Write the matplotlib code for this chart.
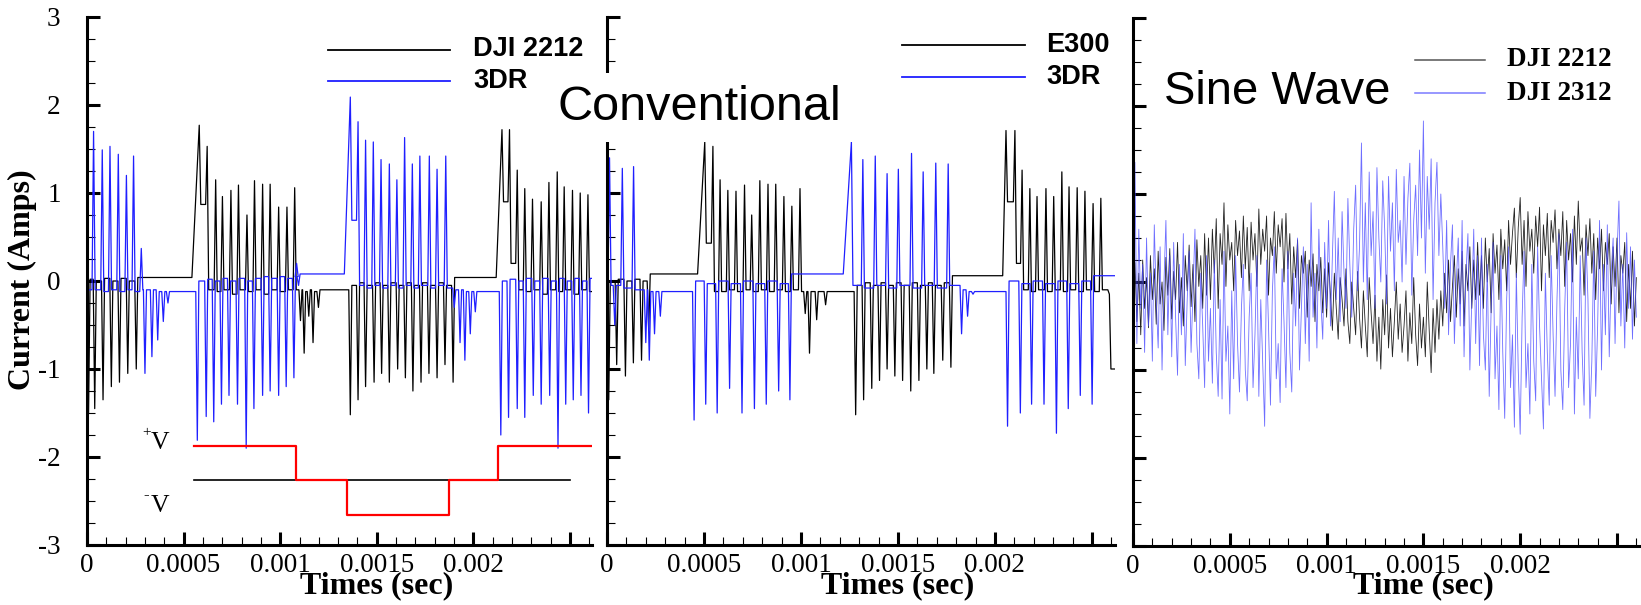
import numpy as np
import matplotlib
matplotlib.use('Agg')
import matplotlib.pyplot as plt
from matplotlib.lines import Line2D
from matplotlib.ticker import MultipleLocator
from matplotlib.transforms import blended_transform_factory

# ---- data (times in units of 10 microseconds) ----
# an entry whose peak equals its base marks the start of a slow ramp
# panel 1 : conventional, DJI 2212 (black) and 3DR (blue)
p1_dji_t = [0.0, 0.8, 4.0, 8.3, 12.6, 16.8, 21.1, 25.5,
            54.3, 58.1, 62.2, 66.6, 70.1, 74.5, 78.4, 82.8, 86.7, 90.9, 94.8, 99.2, 103.5, 107.5,
            110.5, 112.4, 114.8, 117.0, 119.8,
            136.3, 140.3, 144.2, 148.6, 152.5, 156.5, 160.8, 164.8, 168.7, 172.9, 177.0, 181.2, 185.3, 189.5,
            211.8, 214.8, 218.7, 222.7, 226.6, 230.6, 235.1, 239.1, 243.4, 247.0, 251.3, 255.3, 259.3, 263.2]
p1_dji_peak = [-0.1, -1.5, -1.45, -1.35, -1.2, -1.15, -1.05, -1.0,
               0.04, 1.77, 1.53, 1.15, 0.96, 1.03, 1.09, 0.75, 1.14, 1.1, 1.1, 0.84, 0.84, 1.06,
               -0.45, -0.82, -0.4, -0.7, -0.3,
               -1.52, -1.35, -1.2, -1.15, -1.05, -1.15, -1.0, -1.1, -1.25, -1.15, -1.05, -1.1, -0.95, -1.15,
               0.04, 1.72, 1.72, 1.26, 1.05, 0.93, 0.9, 1.12, 1.24, 1.07, 1.03, 1.0, 0.98, 0.85]
p1_dji_base = [-0.1, 0.02, 0.0, 0.03, 0.0, 0.03, 0.0, 0.04,
               0.04, 0.87, -0.1, -0.12, -0.1, -0.15, -0.1, -0.12, -0.1, -0.15, -0.1, -0.12, -0.1, -0.1,
               -0.1, -0.12, -0.1, -0.12, -0.1,
               -0.05, -0.02, -0.05, -0.02, -0.05, -0.02, -0.05, -0.02, -0.05, -0.02, -0.05, -0.02, -0.05, 0.04,
               0.04, 0.9, 0.2, -0.1, -0.12, -0.1, -0.15, -0.1, -0.12, -0.1, -0.15, -0.1, -0.12, -0.1]

p1_3dr_t = [0.0, 3.4, 7.9, 11.9, 16.2, 20.4, 24.1, 28.1,
            30.0, 33.6, 36.6, 39.5, 41.9,
            57.1, 61.7, 65.6, 69.6, 73.5, 77.9, 82.4, 86.4, 90.9, 94.8, 99.2, 103.1, 107.1,
            108.5, 109.5,
            133.2, 136.3, 140.3, 144.2, 148.2, 152.2, 156.5, 160.4, 164.4, 168.4, 172.3, 177.2, 181.2, 185.7,
            190.1, 193.1, 195.6, 198.4, 201.0,
            214.2, 218.2, 222.7, 226.6, 231.0, 235.1, 239.5, 243.8, 247.8, 251.7, 255.7, 259.6, 263.5]
p1_3dr_peak = [-0.1, 1.7, 1.49, 1.53, 1.44, 1.2, 1.42, 0.37,
               -1.05, -0.86, -0.67, -0.46, -0.25,
               -1.81, -1.54, -1.6, -1.4, -1.3, -1.4, -1.9, -1.45, -1.3, -1.25, -1.3, -1.2, -1.1,
               0.2, -0.05,
               0.08, 2.09, 1.81, 1.6, 1.58, 1.38, 1.33, 1.15, 1.63, 1.33, 1.42, 1.42, 1.27, 1.42,
               -0.3, -0.7, -0.9, -0.6, -0.35,
               -1.75, -1.55, -1.45, -1.55, -1.3, -1.4, -1.3, -1.9, -1.4, -1.35, -1.3, -1.5, -1.3]
p1_3dr_base = [-0.1, -0.1, -0.12, -0.1, -0.12, -0.1, -0.12, -0.1,
               -0.1, -0.1, -0.12, -0.12, -0.12,
               0.0, 0.02, 0.0, 0.03, 0.0, 0.03, 0.0, 0.03, 0.05, 0.03, 0.05, 0.03, 0.05,
               0.05, 0.08,
               0.08, 0.69, -0.05, -0.08, -0.05, -0.08, -0.05, -0.08, -0.05, -0.08, -0.05, -0.08, -0.05, -0.08,
               -0.1, -0.1, -0.12, -0.12, -0.12,
               0.0, 0.02, 0.0, 0.03, 0.0, 0.03, 0.0, 0.03, 0.0, 0.03, 0.0, 0.03, 0.0]

# panel 2 : conventional, E300 (black) and 3DR (blue)
p2_e300_t = [0.0, 0.9, 5.0, 9.5, 13.6, 17.8, 21.5,
             46.7, 50.4, 54.6, 58.3, 62.3, 66.5, 70.9, 74.6, 78.8, 83.0, 87.0, 91.2, 95.3, 99.5,
             102.2, 104.4, 108.1, 112.7,
             128.2, 132.3, 136.5, 140.5, 144.4, 148.4, 152.4, 156.6, 160.8, 164.9, 168.5, 173.1, 177.3,
             204.0, 205.7, 210.3, 214.0, 218.0, 221.7, 226.3, 230.3, 234.5, 238.2, 242.4, 246.4, 250.6, 254.6,
             259.0, 263.0]
p2_e300_peak = [-0.1, -1.35, -0.95, -1.08, -0.93, -0.9, -0.55,
                0.08, 1.58, 1.53, 1.15, 1.03, 1.02, 1.09, 0.75, 1.14, 1.1, 1.1, 0.96, 0.85, 1.05,
                -0.37, -0.82, -0.44, -0.27,
                -1.52, -1.35, -1.22, -1.13, -1.0, -1.08, -1.13, -1.25, -1.13, -1.0, -1.05, -0.9, -0.98,
                0.06, 1.71, 1.71, 1.26, 1.05, 0.96, 1.05, 0.96, 1.24, 1.07, 1.06, 1.02, 0.88, 0.94,
                -0.15, -1.0]
p2_e300_base = [-0.1, 0.0, 0.02, 0.0, 0.02, 0.0, 0.08,
                0.08, 0.43, -0.12, -0.12, -0.1, -0.12, -0.1, -0.12, -0.1, -0.12, -0.1, -0.12, -0.1, -0.12,
                -0.12, -0.12, -0.12, -0.12,
                -0.05, -0.02, -0.05, -0.02, -0.05, -0.02, -0.05, -0.02, -0.05, -0.02, -0.05, -0.02, 0.06,
                0.06, 0.9, 0.2, -0.1, -0.12, -0.1, -0.12, -0.1, -0.12, -0.1, -0.12, -0.1, -0.12, -0.1,
                -1.0, -1.0]

p2_3dr_t = [0.0, 1.3, 4.0, 7.9, 13.7, 20.0, 21.8, 24.5, 27.5,
            44.9, 50.9, 56.8, 63.2, 69.6, 76.0, 82.1, 88.5, 94.3,
            121.8, 126.0, 131.9, 138.3, 144.4, 150.2, 157.0, 163.0, 169.5, 175.9,
            182.8, 185.9, 188.7,
            206.5, 213.1, 218.9, 225.3, 231.7, 237.8, 244.0, 250.1, 263.0]
p2_3dr_peak = [0.0, 1.4, -0.5, 1.28, 1.3, -0.7, -0.9, -0.6, -0.4,
               -1.58, -1.4, -1.5, -1.22, -1.5, -1.45, -1.4, -1.25, -1.35,
               0.08, 1.58, 1.38, 1.42, 1.22, 1.27, 1.45, 1.24, 1.34, 1.33,
               -0.6, -0.4, -0.15,
               -1.65, -1.5, -1.4, -1.4, -1.73, -1.45, -1.3, -1.4, 0.06]
p2_3dr_base = [-0.05, -0.05, -0.05, -0.08, -0.1, -0.1, -0.12, -0.12, -0.12,
               0.0, -0.03, 0.0, -0.03, 0.0, -0.03, 0.0, -0.03, 0.08,
               0.08, -0.05, -0.08, -0.05, -0.08, -0.05, -0.08, -0.05, -0.08, -0.05,
               -0.1, -0.12, -0.12,
               0.0, -0.03, 0.0, -0.03, 0.0, -0.03, 0.0, 0.06, 0.06]

# applied voltage sketch (panel 1), times in 10 us
volt_t = [55.3, 108.0, 108.0, 134.4, 134.4, 187.2, 187.2, 212.8, 212.8, 262.0]
volt_v = [-1.875, -1.875, -2.26, -2.26, -2.66, -2.66, -2.26, -2.26, -1.875, -1.875]
ref_t = [55.3, 250.0]
ref_v = [-2.26, -2.26]

# panel 3 : sine wave drive, one sample every 10 us
sine_dji2212 = [
    -0.05, 0.22, -0.45, 0.1, -0.6, 0.25, -0.3, 0.05, -0.52, 0.3, -0.2, 0.15, -0.48, 0.35, -0.25, 0.0, -0.55, 0.28, -0.15, 0.38,
    -0.42, 0.12, -0.2, 0.45, -0.35, 0.05, -0.5, 0.3, -0.1, 0.42, -0.28, 0.2, -0.45, 0.48, -0.05, 0.3, -0.3, 0.55, -0.15, 0.5,
    -0.2, 0.6, 0.1, 0.72, -0.3, 0.55, 0.2, 0.9, -0.05, 0.65, 0.25, 0.45, -0.1, 0.7, 0.3, 0.58, 0.05, 0.75, 0.15, 0.62,
    -0.1, 0.68, 0.25, 0.55, -0.05, 0.83, 0.2, 0.6, 0.35, 0.75, -0.15, 0.5, 0.3, 0.8, 0.1, 0.65, 0.4, 0.72, 0.0, 0.78,
    0.15, 0.55, -0.25, 0.4, 0.05, 0.48, -0.3, 0.3, 0.1, 0.35, -0.4, 0.25, -0.05, 0.32, -0.45, 0.2, -0.1, 0.28, -0.35, 0.15,
    -0.4, 0.22, -0.15, -0.55, 0.1, -0.3, -0.65, 0.05, -0.2, -0.5, 0.15, -0.45, -0.7, 0.0, -0.3, -0.6, 0.12, -0.4, -0.75, -0.1,
    -0.5, -0.85, 0.05, -0.35, -0.7, -0.15, -0.9, -0.4, -0.99, -0.2, -0.6, 0.08, -0.75, -0.3, -0.85, -0.45, 0.0, -0.65, -0.25, -0.8,
    -0.5, -0.1, -0.9, -0.35, -0.7, 0.05, -0.6, -0.95, -0.25, -0.75, -0.4, -0.85, 0.0, -0.55, -1.03, -0.3, -0.8, -0.2, -0.65, -0.1,
    -0.5, 0.1, -0.35, 0.25, -0.45, -0.05, 0.3, -0.4, 0.15, -0.25, 0.35, -0.5, 0.2, -0.1, 0.4, -0.3, 0.25, -0.2, 0.45, -0.15,
    0.3, -0.3, 0.5, 0.0, 0.38, -0.35, 0.55, 0.1, 0.42, -0.2, 0.6, 0.15, 0.48, -0.1, 0.7, 0.2, 0.55, 0.84, 0.05, 0.62,
    0.96, 0.2, 0.7, -0.05, 0.8, 0.35, 0.6, 0.1, 0.75, 0.4, 0.85, -0.1, 0.65, 0.3, 0.78, 0.05, 0.7, 0.45, 0.82, 0.15,
    0.6, 0.3, 0.8, -0.05, 0.7, 0.25, 0.55, 0.0, 0.75, 0.2, 0.92, 0.35, 0.5, -0.15, 0.65, 0.3, 0.72, 0.1, 0.55, -0.2,
    0.5, 0.15, 0.6, -0.1, 0.45, 0.2, 0.55, -0.25, 0.4, -0.05, 0.5, -0.35, 0.3, 0.1, 0.45, -0.45, 0.2, -0.3, 0.35, -0.5,
    0.05]
sine_dji2312 = [
    0.3, 1.36, -0.7, 0.6, -0.3, 0.2, -0.8, 0.5, -0.5, 0.1, -0.9, 0.65, -0.2, -0.75, 0.4, -1.0, 0.0, 0.7, -0.6, 0.3,
    -0.85, 0.45, -0.4, -1.06, 0.2, -0.6, 0.55, -0.95, -0.2, 0.35, -0.8, -0.1, 0.6, -0.7, -1.1, 0.1, -0.5, -1.2, 0.3, -0.9,
    -0.3, -1.15, 0.25, -0.8, -1.3, -0.2, -1.33, 0.35, -0.9, -0.5, -1.5, -0.1, -1.1, 0.3, -0.7, -1.25, -0.3, 0.2, -1.0, -1.35,
    -0.4, 0.1, -1.2, -0.6, 0.3, -1.3, -0.2, -0.9, -1.64, 0.25, -0.5, -1.4, -0.1, 0.4, -1.1, -0.7, -1.37, 0.15, -0.45, -1.2,
    0.35, -0.8, -1.25, 0.1, -0.5, 0.5, -1.0, -0.3, 0.4, -0.7, 0.2, -0.9, 0.9, -0.4, 0.1, -0.75, 0.6, -0.2, -0.65, 0.45,
    -0.3, 0.7, -0.5, 0.3, 1.03, -0.2, 0.5, -0.45, 0.8, 0.1, -0.3, 0.95, 0.2, -0.4, 0.6, 1.1, -0.1, 0.4, 1.58, 0.0,
    0.9, -0.2, 1.25, 0.3, 0.8, -0.3, 1.3, 0.5, 0.0, 1.15, 0.6, -0.25, 1.2, 0.35, 0.9, -0.1, 1.28, 0.45, 0.7, 0.0,
    1.2, 0.2, 0.95, 1.35, -0.15, 0.7, 1.1, 0.3, 1.5, 0.5, 1.83, 0.1, 1.2, 0.6, 1.4, -0.2, 0.9, 1.36, 0.3, 1.0,
    0.4, -0.3, 0.7, -0.6, 0.2, 0.65, -0.7, 0.0, 0.5, -0.5, 0.7, -0.85, 0.1, 0.55, -1.0, -0.2, 0.6, -0.7, 0.3, -0.95,
    0.5, -0.6, -1.0, 0.2, -1.3, -0.3, 0.45, -1.1, -0.5, -1.45, 0.3, -0.8, -1.55, -0.2, 0.4, -1.2, -0.6, -1.65, 0.1, -1.0,
    -1.73, -0.4, 0.35, -1.2, -0.7, -1.5, 0.2, -0.9, -1.35, 0.4, -0.5, -1.1, -1.67, 0.1, -0.8, -1.4, 0.3, -0.6, -1.3, -0.2,
    0.55, -1.0, -1.45, -0.3, 0.45, -1.2, -0.7, 0.6, -1.5, -0.4, -1.1, 0.3, -0.8, -1.4, 0.5, -0.2, -1.55, -0.9, 0.35, -1.3,
    -0.5, 0.7, -1.0, 0.2, -0.6, 0.65, -0.85, 0.1, 0.5, -0.7, 0.3, 0.92, -0.5, 0.2, -0.75, 0.56, -0.3, 0.4, -0.65, 0.25,
    -0.4]
sine_t = np.arange(len(sine_dji2212)) * 1e-5

xticks = [0, 0.0005, 0.001, 0.0015, 0.002, 0.0025]
xticklabels = ['0', '0.0005', '0.001', '0.0015', '0.002', '']
yticks = [-3, -2, -1, 0, 1, 2, 3]
yticklabels = ['-3', '-2', '-1', '0', '1', '2', '3']


def trace(t, peak, base, w=0.8):
    # spikes rise from the previous level to the peak and fall to the level after it;
    # an entry with peak == base starts a straight ramp into the next spike
    xs, ys = [t[0]], [peak[0]]
    prev = base[0]
    ramp = False
    for i in range(1, len(t)):
        if peak[i] == base[i]:
            xs.append(t[i])
            ys.append(prev)
            ramp = True
            prev = base[i]
            continue
        if not ramp:
            xs.append(t[i] - w)
            ys.append(prev)
        xs += [t[i], t[i] + w]
        ys += [peak[i], base[i]]
        prev = base[i]
        ramp = False
    return np.array(xs) * 1e-5, np.array(ys)


plt.rcParams['font.family'] = 'Liberation Serif'
plt.rcParams['xtick.labelsize'] = 19.5
plt.rcParams['ytick.labelsize'] = 19.5

W, H = 1641, 605
fig = plt.figure(figsize=(W / 100, H / 100), dpi=100)


def fx(px):
    return px / W


def fy(py):
    return 1 - py / H


ax1 = fig.add_axes([fx(87), fy(545), fx(592) - fx(87), fy(17) - fy(545)])
ax2 = fig.add_axes([fx(607), fy(545), fx(1115) - fx(607), fy(17) - fy(545)])
ax3 = fig.add_axes([fx(1133), fy(546), fx(1641) - fx(1133), fy(18) - fy(546)])

BLUE = '#1f1fff'

x, y = trace(p1_dji_t, p1_dji_peak, p1_dji_base)
ax1.plot(x, y, color='black', lw=0.9)
x, y = trace(p1_3dr_t, p1_3dr_peak, p1_3dr_base)
ax1.plot(x, y, color=BLUE, lw=0.9)
ax1.plot(np.array(ref_t) * 1e-5, ref_v, color='black', lw=1.2)
ax1.plot(np.array(volt_t) * 1e-5, volt_v, color='red', lw=1.6)

x, y = trace(p2_e300_t, p2_e300_peak, p2_e300_base)
ax2.plot(x, y, color='black', lw=0.9)
x, y = trace(p2_3dr_t, p2_3dr_peak, p2_3dr_base)
ax2.plot(x, y, color=BLUE, lw=0.9)

ax3.plot(sine_t, sine_dji2212, color='#222222', lw=0.6)
ax3.plot(sine_t, sine_dji2312, color='#4a4aff', lw=0.6, alpha=0.8)

xmax = [0.002614, 0.002619, 0.002624]
for ax, xm in zip([ax1, ax2, ax3], xmax):
    ax.set_xlim(0, xm)
    ax.set_ylim(-3, 3)
    ax.set_xticks(xticks)
    ax.set_xticklabels(xticklabels, fontsize=19.5)
    ax.set_yticks(yticks)
    ax.set_yticklabels(yticklabels, fontsize=19.5)
    ax.xaxis.set_minor_locator(MultipleLocator(0.0001))
    ax.yaxis.set_minor_locator(MultipleLocator(0.25))
    ax.tick_params(which='major', direction='in', length=9.5, width=2.2)
    ax.tick_params(axis='x', which='major', pad=6)
    ax.tick_params(axis='y', which='major', pad=19)
    ax.tick_params(which='minor', direction='in', length=5.5, width=0.8)
    for s in ['top', 'right']:
        ax.spines[s].set_visible(False)
    for s in ['left', 'bottom']:
        ax.spines[s].set_linewidth(2.2)
    ax.patch.set_alpha(0)
    tr = blended_transform_factory(ax.transData, fig.transFigure)
    ax.text(0.0015, fy(586), 'Time (sec)' if ax is ax3 else 'Times (sec)', transform=tr,
            ha='center', va='center', fontsize=23, fontweight='bold')

for ax in [ax2, ax3]:
    ax.tick_params(axis='y', labelleft=False)

fig.text(fx(22), fy(280), 'Current (Amps)', rotation=90, ha='center', va='center',
         fontsize=23, fontweight='bold')

# +V / -V labels of the voltage sketch
ax1.text(0.00033, -1.84, 'V', fontsize=18.5, va='center', ha='left')
ax1.text(0.000285, -1.72, '+', fontsize=11, va='center', ha='left')
ax1.text(0.00033, -2.56, 'V', fontsize=18.5, va='center', ha='left')
ax1.text(0.00029, -2.43, '-', fontsize=12, va='center', ha='left')

fig.text(fx(558), fy(120), 'Conventional', fontsize=35, family='Liberation Sans', ha='left',
         va='baseline', zorder=10,
         bbox=dict(facecolor='white', edgecolor='none', boxstyle='square,pad=0.25'))
fig.text(fx(1164), fy(104), 'Sine Wave', fontsize=34, family='Liberation Sans', ha='left',
         va='baseline')

# legends drawn by hand, like the original
legends = [
    (328, 450, 473, [(49.5, 'black', 1.3, 'DJI 2212'), (81, BLUE, 1.3, '3DR')], 'Liberation Sans'),
    (902, 1025, 1046, [(45, 'black', 1.3, 'E300'), (77, BLUE, 1.3, '3DR')], 'Liberation Sans'),
    (1415, 1485, 1507, [(60, '#555555', 1.1, 'DJI 2212'), (93, '#7a7aff', 1.1, 'DJI 2312')], 'Liberation Serif'),
]
for x0, x1, xt, rows, fam in legends:
    for yy, col, lw, lab in rows:
        fig.add_artist(Line2D([fx(x0), fx(x1)], [fy(yy), fy(yy)], color=col, lw=lw,
                              transform=fig.transFigure))
        fig.text(fx(xt), fy(yy), lab, fontsize=19.5, fontweight='bold', family=fam,
                 ha='left', va='center')

fig.savefig('out.png', dpi=100)
